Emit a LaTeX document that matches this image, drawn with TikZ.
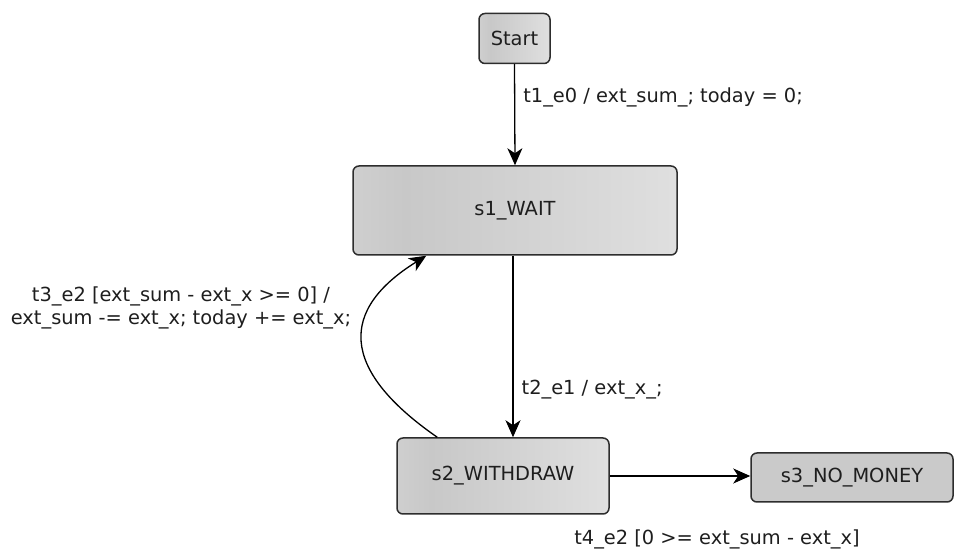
\documentclass[tikz,border=0pt]{standalone}
\usepackage{fontspec}
\setmainfont{DejaVu Sans}
\usetikzlibrary{arrows.meta,calc}

\definecolor{gA}{RGB}{228,228,228}
\definecolor{gB}{RGB}{200,200,200}
\definecolor{gC}{RGB}{237,237,237}
\definecolor{flatgray}{RGB}{202,202,202}
\definecolor{edgegray}{RGB}{45,45,45}
\definecolor{txt}{RGB}{30,30,30}

% light - darker - light sweep across each state box
\pgfdeclarehorizontalshading{stategrad}{100bp}{color(0bp)=(gA); color(33bp)=(gB); color(100bp)=(gC)}

\tikzset{
  x=0.5pt, y=-0.5pt,
  base/.style={font=\fontsize{9.7}{11.6}\selectfont, text=txt},
  stbox/.style={base, draw=edgegray, line width=0.75pt, rounded corners=3pt,
    shade, shading=stategrad, inner sep=0pt},
  finalbox/.style={base, draw=edgegray, line width=0.75pt, rounded corners=3pt,
    fill=flatgray, inner sep=0pt},
  trans/.style={draw=black, line width=0.65pt,
    -{Stealth[length=8.5pt,width=7.5pt,inset=2.5pt]}},
  lbl/.style={base, inner sep=0pt},
}

\begin{document}
\begin{tikzpicture}
  \useasboundingbox (0,0) rectangle (954,550);

  % states
  \node[stbox, minimum width=35.5pt, minimum height=25pt] (start) at (514.5,38.5) {Start};
  \node[stbox, minimum width=162pt, minimum height=44.5pt] (wait) at (515,210.5) {s1\_WAIT};
  \node[stbox, minimum width=106pt, minimum height=38pt] (withdraw) at (503,476) {s2\_WITHDRAW};
  \node[finalbox, minimum width=101pt, minimum height=24.5pt] (nomoney) at (852,477.5) {s3\_NO\_MONEY};

  % transitions
  \draw[trans] (start.south) -- (wait.north)
    node[lbl, pos=0.33, anchor=west, xshift=4pt] (l1) {t1\_e0 / ext\_sum\_; today = 0;};

  \coordinate (t2from) at ($(wait.south)+(-2,0)$);
  \draw[trans] (t2from) -- (t2from |- withdraw.north)
    node[lbl, pos=0.74, anchor=west, xshift=4pt] (l2) {t2\_e1 / ext\_x\_;};

  \coordinate (t3from) at ($(withdraw.north west)+(41,0)$);
  \coordinate (t3to) at ($(wait.south west)+(74,0)$);
  \draw[trans] (t3from) .. controls +(-98,-68) and +(-87,54) .. (t3to);
  \node[lbl, align=center] (l3) at (181,308)
    {t3\_e2 [ext\_sum - ext\_x >= 0] /\\ext\_sum -= ext\_x; today += ext\_x;};

  \draw[trans] (withdraw.east) -- (withdraw.east -| nomoney.west);
  \node[lbl] (l4) at (717,539) {t4\_e2 [0 >= ext\_sum - ext\_x]};
\end{tikzpicture}
\end{document}
